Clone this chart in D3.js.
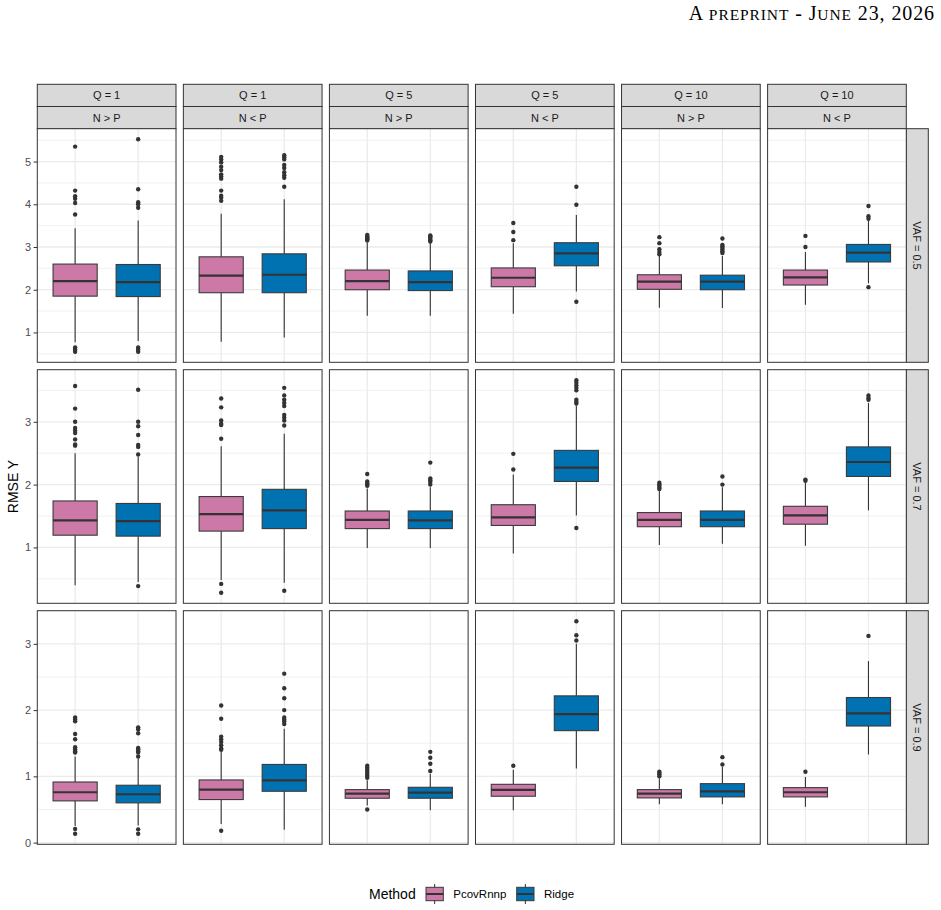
<!DOCTYPE html>
<html>
<head>
<meta charset="utf-8">
<script src="https://cdn.jsdelivr.net/npm/d3@7"></script>
<style>
  html, body { margin: 0; padding: 0; background: #ffffff; }
  svg { display: block; }
</style>
</head>
<body>
<svg id="chart" width="941" height="910"></svg>
<script>
// ---------------- data ----------------
const qLabels = ["Q = 1", "Q = 1", "Q = 5", "Q = 5", "Q = 10", "Q = 10"];
const nLabels = ["N > P", "N < P", "N > P", "N < P", "N > P", "N < P"];
const vafLabels = ["VAF = 0.5", "VAF = 0.7", "VAF = 0.9"];
const methods = ["PcovRnnp", "Ridge"];
const methodColors = ["#CC79A7", "#0072B2"];
const yTicks = [[1, 2, 3, 4, 5], [1, 2, 3], [0, 1, 2, 3]];
const yMinor = [[0.5, 1.5, 2.5, 3.5, 4.5, 5.5], [0.5, 1.5, 2.5, 3.5], [0.5, 1.5, 2.5, 3.5]];

// [lower whisker, Q1, median, Q3, upper whisker], rows = VAF, columns = Q / N-P panels
const pcovStats = [
  [[0.77, 1.85, 2.20, 2.60, 3.44], [0.78, 1.93, 2.33, 2.77, 3.78], [1.39, 2.00, 2.20, 2.46, 3.10],
   [1.44, 2.07, 2.28, 2.51, 3.09], [1.58, 2.01, 2.19, 2.35, 2.79], [1.65, 2.11, 2.29, 2.46, 2.88]],
  [[0.40, 1.195, 1.43, 1.74, 2.50], [0.48, 1.26, 1.53, 1.81, 2.61], [0.99, 1.30, 1.44, 1.58, 1.94],
   [0.905, 1.35, 1.48, 1.68, 2.16], [1.04, 1.33, 1.44, 1.555, 1.91], [1.025, 1.37, 1.51, 1.655, 2.04]],
  [[0.25, 0.63, 0.76, 0.915, 1.30], [0.28, 0.65, 0.80, 0.946, 1.37], [0.56, 0.67, 0.74, 0.80, 0.94],
   [0.49, 0.70, 0.795, 0.88, 1.10], [0.58, 0.675, 0.74, 0.80, 0.97], [0.54, 0.69, 0.76, 0.83, 0.99]]
];
const ridgeStats = [
  [[0.80, 1.84, 2.18, 2.59, 3.62], [0.88, 1.93, 2.35, 2.84, 4.12], [1.39, 1.98, 2.18, 2.44, 3.09],
   [1.96, 2.56, 2.85, 3.10, 3.75], [1.57, 2.00, 2.19, 2.34, 2.79], [2.15, 2.65, 2.87, 3.06, 3.61]],
  [[0.45, 1.18, 1.42, 1.70, 2.44], [0.44, 1.30, 1.59, 1.925, 2.81], [0.99, 1.30, 1.43, 1.58, 1.96],
   [1.51, 2.05, 2.27, 2.545, 3.26], [1.06, 1.33, 1.44, 1.58, 1.96], [1.59, 2.13, 2.36, 2.60, 3.30]],
  [[0.26, 0.60, 0.73, 0.866, 1.27], [0.195, 0.775, 0.94, 1.18, 1.72], [0.49, 0.67, 0.755, 0.835, 1.04],
   [1.12, 1.69, 1.94, 2.215, 3.00], [0.58, 0.69, 0.775, 0.89, 1.14], [1.33, 1.76, 1.95, 2.19, 2.74]]
];
const pcovOutliers = [
  [[5.35, 4.32, 4.19, 4.13, 4.03, 3.76, 0.55, 0.60, 0.65],
   [5.11, 5.05, 4.98, 4.88, 4.80, 4.70, 4.65, 4.60, 4.32, 4.20, 4.15, 4.08],
   [3.15, 3.18, 3.20, 3.22, 3.25, 3.28],
   [3.56, 3.35, 3.16],
   [3.23, 3.09, 2.95, 2.88, 2.83],
   [3.26, 3.00]],
  [[3.57, 3.21, 3.00, 2.90, 2.86, 2.82, 2.72, 2.64, 2.62],
   [3.37, 3.23, 3.02, 2.97, 2.95, 2.73, 0.42, 0.28],
   [2.17, 2.05, 2.02, 2.00, 1.98],
   [2.49, 2.24],
   [2.03, 2.00, 1.98, 1.95, 1.93],
   [2.08, 2.06]],
  [[1.89, 1.86, 1.83, 1.64, 1.56, 1.44, 1.41, 1.38, 1.36, 0.205, 0.135],
   [2.07, 1.87, 1.60, 1.56, 1.52, 1.47, 1.42, 1.40, 0.18],
   [1.16, 1.13, 1.10, 1.07, 1.04, 1.01, 0.98, 0.50],
   [1.16],
   [1.07, 1.05, 1.03, 1.00],
   [1.07]]
];
const ridgeOutliers = [
  [[5.52, 4.35, 4.05, 4.00, 3.92, 0.55, 0.60, 0.65],
   [5.15, 5.10, 5.05, 4.92, 4.85, 4.75, 4.68, 4.62, 4.41],
   [3.13, 3.16, 3.19, 3.22, 3.25, 3.27],
   [4.41, 3.99, 1.72],
   [3.20, 3.05, 3.02, 2.98, 2.94, 2.90, 2.86],
   [3.96, 3.72, 3.66, 2.06]],
  [[3.51, 3.00, 2.93, 2.79, 2.63, 2.60, 2.48, 0.385],
   [3.54, 3.42, 3.35, 3.30, 3.25, 3.11, 3.07, 3.02, 2.94, 0.31],
   [2.35, 2.10, 2.07, 2.04, 2.00],
   [3.66, 3.62, 3.58, 3.54, 3.50, 3.35, 3.32, 3.29, 1.31],
   [2.13, 2.00],
   [3.42, 3.38, 3.35]],
  [[1.74, 1.71, 1.65, 1.43, 1.41, 1.38, 1.36, 1.30, 0.20, 0.135],
   [2.55, 2.33, 2.18, 2.00, 1.89, 1.86, 1.83, 1.79],
   [1.37, 1.28, 1.19, 1.08],
   [3.34, 3.13, 3.05],
   [1.29, 1.18],
   [3.12]]
];

// ---------------- layout ----------------
const svg = d3.select("#chart");
const W = 941, H = 910;
const font = "'Liberation Sans', Arial, Helvetica, sans-serif";
svg.append("rect").attr("width", W).attr("height", H).attr("fill", "#ffffff");

// page header (small caps built from two sizes)
const header = svg.append("text")
  .attr("x", 935).attr("y", 20)
  .attr("text-anchor", "end")
  .attr("font-family", "'Liberation Serif', 'Times New Roman', serif")
  .attr("letter-spacing", 0.9)
  .attr("fill", "#000");
[["A", 20], [" PREPRINT", 15.5], [" - J", 20], ["UNE", 15.5], [" 23, 2026", 20]].forEach(([t, s]) => {
  header.append("tspan").attr("font-size", s).text(t);
});

const x0 = 37.3, pw = 138.7, hgap = 7.36;
const y0 = 128.7, ph = 233.6, vgap = 7.4;
const stripH = 22.2, stripTop = 84.3;
const stripFill = "#D9D9D9", frame = "#333333";
const colLeft = c => x0 + c * (pw + hgap);
const rowTop = r => y0 + r * (ph + vgap);

const xScale = d3.scalePoint().domain(methods).range([0, pw]).padding(0.6);
const boxW = xScale.step() * 0.7;

const statsAll = [pcovStats, ridgeStats];
const outAll = [pcovOutliers, ridgeOutliers];

// y scales per row (free y), 5% expansion like ggplot
const yScales = vafLabels.map((_, r) => {
  let vals = [];
  for (let c = 0; c < 6; c++) {
    for (let m = 0; m < 2; m++) {
      vals = vals.concat(statsAll[m][r][c], outAll[m][r][c]);
    }
  }
  const lo = d3.min(vals), hi = d3.max(vals), pad = (hi - lo) * 0.05;
  return d3.scaleLinear().domain([lo - pad, hi + pad]).range([rowTop(r) + ph, rowTop(r)]);
});

// top strips
for (let c = 0; c < 6; c++) {
  const lx = colLeft(c);
  [qLabels[c], nLabels[c]].forEach((lab, k) => {
    const ty = stripTop + k * stripH;
    svg.append("rect").attr("x", lx).attr("y", ty).attr("width", pw).attr("height", stripH)
      .attr("fill", stripFill).attr("stroke", frame).attr("stroke-width", 1);
    svg.append("text").attr("x", lx + pw / 2).attr("y", ty + stripH / 2 + 4)
      .attr("text-anchor", "middle").attr("font-family", font).attr("font-size", 11)
      .attr("fill", "#1A1A1A").text(lab);
  });
}

// right strips
const rsX = colLeft(5) + pw, rsW = 22;
for (let r = 0; r < 3; r++) {
  const ty = rowTop(r);
  svg.append("rect").attr("x", rsX).attr("y", ty).attr("width", rsW).attr("height", ph)
    .attr("fill", stripFill).attr("stroke", frame).attr("stroke-width", 1);
  const cx = rsX + rsW / 2, cy = ty + ph / 2;
  svg.append("text").attr("transform", `translate(${cx - 4},${cy}) rotate(90)`)
    .attr("text-anchor", "middle").attr("font-family", font).attr("font-size", 11)
    .attr("fill", "#1A1A1A").text(vafLabels[r]);
}

// panels
for (let r = 0; r < 3; r++) {
  const y = yScales[r];
  const [dlo, dhi] = y.domain();
  for (let c = 0; c < 6; c++) {
    const lx = colLeft(c), ty = rowTop(r);
    const g = svg.append("g").attr("transform", `translate(${lx},0)`);
    g.append("rect").attr("x", 0).attr("y", ty).attr("width", pw).attr("height", ph).attr("fill", "#fff");
    // minor grid
    yMinor[r].filter(v => v > dlo && v < dhi).forEach(v => {
      g.append("line").attr("x1", 0).attr("x2", pw).attr("y1", y(v)).attr("y2", y(v))
        .attr("stroke", "#EBEBEB").attr("stroke-width", 0.7);
    });
    // major grid
    yTicks[r].forEach(v => {
      g.append("line").attr("x1", 0).attr("x2", pw).attr("y1", y(v)).attr("y2", y(v))
        .attr("stroke", "#EBEBEB").attr("stroke-width", 1.3);
    });
    methods.forEach(m => {
      g.append("line").attr("x1", xScale(m)).attr("x2", xScale(m)).attr("y1", ty).attr("y2", ty + ph)
        .attr("stroke", "#EBEBEB").attr("stroke-width", 1.3);
    });
    // boxplots
    methods.forEach((m, mi) => {
      const s = statsAll[mi][r][c];
      const cx = xScale(m);
      g.append("line").attr("x1", cx).attr("x2", cx).attr("y1", y(s[3])).attr("y2", y(s[4]))
        .attr("stroke", "#333").attr("stroke-width", 1.1);
      g.append("line").attr("x1", cx).attr("x2", cx).attr("y1", y(s[1])).attr("y2", y(s[0]))
        .attr("stroke", "#333").attr("stroke-width", 1.1);
      g.append("rect").attr("x", cx - boxW / 2).attr("y", y(s[3]))
        .attr("width", boxW).attr("height", y(s[1]) - y(s[3]))
        .attr("fill", methodColors[mi]).attr("stroke", "#3a3a3a").attr("stroke-width", 1.1);
      g.append("line").attr("x1", cx - boxW / 2).attr("x2", cx + boxW / 2)
        .attr("y1", y(s[2])).attr("y2", y(s[2]))
        .attr("stroke", "#333").attr("stroke-width", 2.2);
      g.selectAll(null).data(outAll[mi][r][c]).enter().append("circle")
        .attr("cx", cx).attr("cy", d => y(d)).attr("r", 2.2).attr("fill", "#333");
    });
    g.append("rect").attr("x", 0).attr("y", ty).attr("width", pw).attr("height", ph)
      .attr("fill", "none").attr("stroke", frame).attr("stroke-width", 1);
  }
  // y axis
  const ax = svg.append("g").attr("transform", `translate(${x0},0)`)
    .call(d3.axisLeft(y).tickValues(yTicks[r]).tickFormat(d3.format("d")).tickSize(3.7).tickPadding(2.5));
  ax.select(".domain").remove();
  ax.selectAll(".tick line").attr("stroke", "#333");
  ax.selectAll(".tick text").attr("font-family", font).attr("font-size", 11).attr("fill", "#4D4D4D");
}

// y axis title
svg.append("text")
  .attr("transform", `translate(18,${(rowTop(0) + rowTop(2) + ph) / 2}) rotate(-90)`)
  .attr("text-anchor", "middle").attr("font-family", font).attr("font-size", 14)
  .attr("fill", "#000").text("RMSE Y");

// legend
const ly = 894;
const lg = svg.append("g");
lg.append("text").attr("x", 369).attr("y", ly + 5).attr("font-family", font).attr("font-size", 14)
  .attr("fill", "#000").text("Method");
const keyX = [426, 516.7];
methods.forEach((m, mi) => {
  const kx = keyX[mi], kw = 17.3, kc = kx + kw / 2;
  lg.append("line").attr("x1", kc).attr("x2", kc).attr("y1", ly - 10).attr("y2", ly + 10)
    .attr("stroke", "#333").attr("stroke-width", 1);
  lg.append("rect").attr("x", kx).attr("y", ly - 6.7).attr("width", kw).attr("height", 13.4)
    .attr("fill", methodColors[mi]).attr("stroke", "#3a3a3a").attr("stroke-width", 1);
  lg.append("line").attr("x1", kx).attr("x2", kx + kw).attr("y1", ly).attr("y2", ly)
    .attr("stroke", "#333").attr("stroke-width", 2);
  lg.append("text").attr("x", kx + kw + 10).attr("y", ly + 4).attr("font-family", font)
    .attr("font-size", 11.5).attr("fill", "#000").text(m);
});
</script>
</body>
</html>
